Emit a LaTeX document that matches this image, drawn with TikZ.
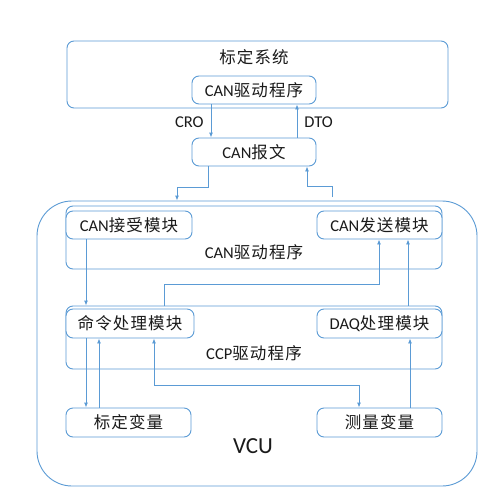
\documentclass[tikz,border=0pt]{standalone}
\usepackage{fontspec}
\setmainfont{Carlito}
\newfontfamily\cjk[LetterSpace=7]{Noto Sans CJK SC}
\usetikzlibrary{arrows.meta}
\definecolor{lineblue}{HTML}{5B9BD5}
\definecolor{txt}{HTML}{1A1A1A}
\newcommand\zh[1]{{\cjk #1}}
\tikzset{
  box/.style={draw=lineblue, line width=0.9pt, rounded corners=7pt, fill=white, inner sep=0pt, text=txt, font=\fontsize{16.5}{19}\selectfont},
  lbl/.style={text=txt, inner sep=0pt, font=\fontsize{16.5}{19}\selectfont},
  arr/.style={draw=lineblue, line width=0.9pt, -{Latex[length=5pt,width=4pt]}},
  arrb/.style={draw=lineblue, line width=0.9pt, {Latex[length=5pt,width=4pt]}-{Latex[length=5pt,width=4pt]}}
}
\begin{document}
\begin{tikzpicture}[x=1pt,y=-1pt]
\useasboundingbox (0,0) rectangle (501,503);
\fill[white] (0,0) rectangle (501,503);
% top system
\node[box, minimum width=381pt, minimum height=67pt] (sys) at (257.5,74.5) {};
\node[lbl] (systitle) at (254,57) {\zh{标定系统}};
\node[box, minimum width=124pt, minimum height=28pt] (cand1) at (254,90) {CAN\zh{驱动程序}};
\node[box, minimum width=124pt, minimum height=28pt] (msg) at (254,152) {CAN\zh{报文}};
% VCU
\node[box, rounded corners=35pt, minimum width=440pt, minimum height=285pt] (vcu) at (257,343.5) {};
\node[lbl, font=\fontsize{23}{27}\selectfont] (vculbl) at (253,446) {VCU};
% CAN driver container
\node[box, minimum width=376pt, minimum height=63pt] (cand2) at (254,237.5) {};
\node[lbl] (cand2lbl) at (254,252) {CAN\zh{驱动程序}};
\node[box, minimum width=126pt, minimum height=28pt] (recv) at (129,225) {CAN\zh{接受模块}};
\node[box, minimum width=125pt, minimum height=28pt] (send) at (379.5,225) {CAN\zh{发送模块}};
% CCP container
\node[box, minimum width=376pt, minimum height=63pt] (ccp) at (254,337.5) {};
\node[lbl] (ccplbl) at (254,353) {CCP\zh{驱动程序}};
\node[box, minimum width=128pt, minimum height=29pt] (cmd) at (130,323.5) {\zh{命令处理模块}};
\node[box, minimum width=125pt, minimum height=29pt] (daq) at (379.5,323.5) {DAQ\zh{处理模块}};
% variables
\node[box, minimum width=125pt, minimum height=29pt] (cal) at (128.5,422.5) {\zh{标定变量}};
\node[box, minimum width=125pt, minimum height=29pt] (meas) at (379.5,422.5) {\zh{测量变量}};
% helper coordinates
\coordinate (m1) at (177,187);
\coordinate (u0) at (332,197);
\coordinate (u1) at (307,186);
\coordinate (c1) at (164,284);
\coordinate (s1) at (379,284);
\coordinate (x408) at (408,300);
\coordinate (b1) at (154,385);
\coordinate (b2) at (359,385);
\coordinate (x410) at (410,400);
% connectors
\draw[arr] ([xshift=-43pt]cand1.south) -- ([xshift=-43pt]msg.north) node[midway, left=7pt, yshift=-1.5pt, lbl] (cro) {CRO};
\draw[arr] ([xshift=43pt]msg.north) -- ([xshift=43pt]cand1.south) node[midway, right=7pt, yshift=-1.5pt, lbl] (dto) {DTO};
\draw[arr] ([xshift=-46pt]msg.south) |- (m1) -- (m1 |- vcu.north);
\draw[arr] (u0) |- (u1) -- (u1 |- msg.south);
\draw[arr] ([xshift=-43pt]recv.south) -- ([xshift=-43pt]recv.south |- ccp.north);
\draw[arr] (ccp.north -| c1) -- (c1) -- (s1) -- (s1 |- send.south);
\draw[arr] (ccp.north -| x408) -- (send.south -| x408);
\draw[arr] ([xshift=-44pt]cmd.south) -- ([xshift=-44pt]cmd.south |- cal.north);
\draw[arr] ([xshift=-31pt]cmd.south |- cal.north) -- ([xshift=-31pt]cmd.south);
\draw[arrb] (b1 |- cmd.south) -- (b1) -- (b2) -- (b2 |- meas.north);
\draw[arr] (meas.north -| x410) -- (daq.south -| x410);
\end{tikzpicture}
\end{document}
